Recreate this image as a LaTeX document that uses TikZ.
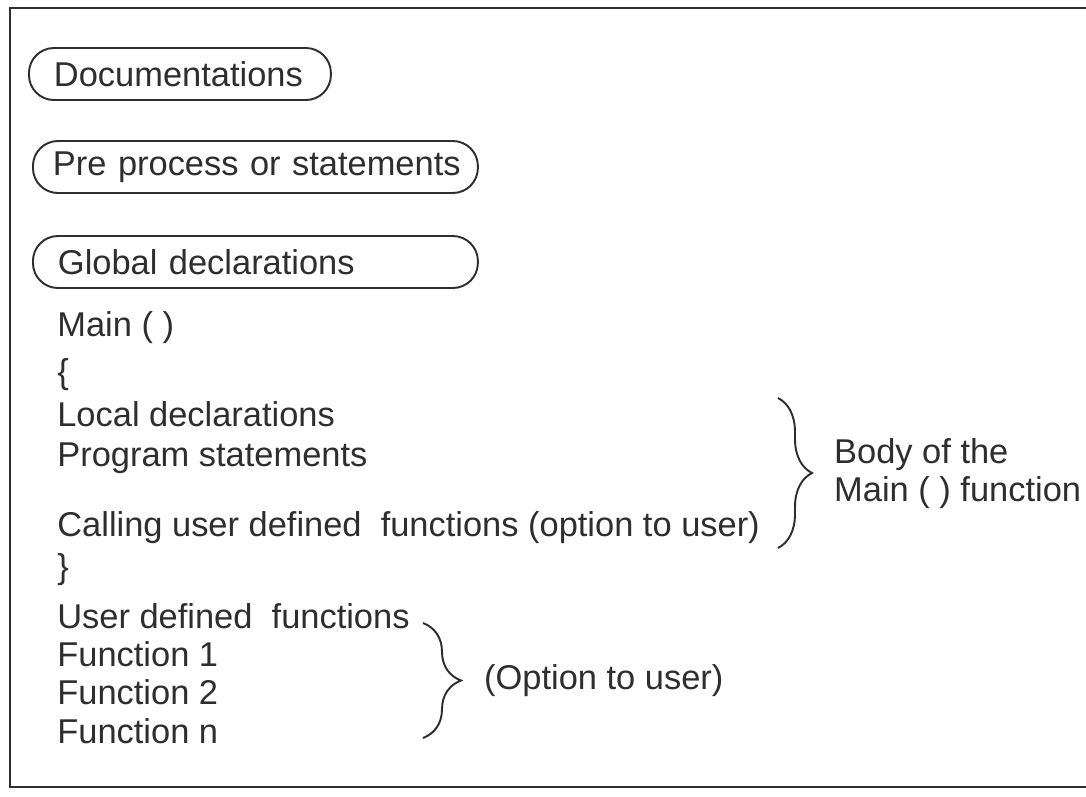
\documentclass[tikz,border=0pt]{standalone}
\usepackage{fontspec}
\setmainfont{Liberation Sans}
\usetikzlibrary{positioning, decorations.pathreplacing}

\definecolor{ink}{HTML}{2E2E2E}

\begin{document}
\begin{tikzpicture}[
    x=0.02cm, y=-0.02cm,
    every node/.style={font=\fontsize{19.6}{21.6}\selectfont, text=ink},
    pill/.style={draw=ink, line width=1.1pt, rounded corners=0.5cm, minimum height=1.04cm,
        anchor=west, inner xsep=0.5cm, align=left},
    codeline/.style={anchor=west, inner sep=0pt, text height=0.72em, text depth=0pt},
    curly/.style={draw=ink, line width=1.1pt, decorate, decoration={brace, amplitude=0.68cm}}
]
\useasboundingbox (0,0) rectangle (1086,796);

% Frame
\draw[ink, line width=1.6pt] (1086,8) -- (10,8) -- (10,787) -- (1086,787);

% Sections
\node[pill, text width=5.04cm] (doc) at (28,74) {Documentations};
\node[pill, text width=8.1cm, inner xsep=0.4cm] (pre) at (32,167) {\mbox{Pre process or statements}};
\node[pill, text width=7.9cm] (glob) at (32,262) {Global declarations};

% Main function
\node[codeline] (main) at (57,330) {Main ( )};
\node[codeline] (open) at (57,377) {\{};
\node[codeline] (local) at (57,420) {Local declarations};
\node[codeline] (prog) at (57,460) {Program statements};
\node[codeline] (call) at (57,530) {Calling user defined\ \ functions (option to user)};
\node[codeline] (close) at (57,572) {\}};

% User functions
\node[codeline] (user) at (57,622) {User defined\ \ functions};
\node[codeline] (fone) at (57,660) {Function 1};
\node[codeline] (ftwo) at (57,698) {Function 2};
\node[codeline] (fn) at (57,737) {Function n};

% Braces
\coordinate (bodytop) at (778,398);
\coordinate (bodybot) at (778,548);
\draw[curly] (bodytop) -- (bodybot);
\node[anchor=west, align=left] (body) at (828,474) {Body of the\\Main ( ) function};

\coordinate (opttop) at (423,623);
\coordinate (optbot) at (423,738);
\draw[curly, decoration={amplitude=0.76cm}] (opttop) -- (optbot);
\node[anchor=west] (opt) at (478,681) {(Option to user)};

\end{tikzpicture}
\end{document}
